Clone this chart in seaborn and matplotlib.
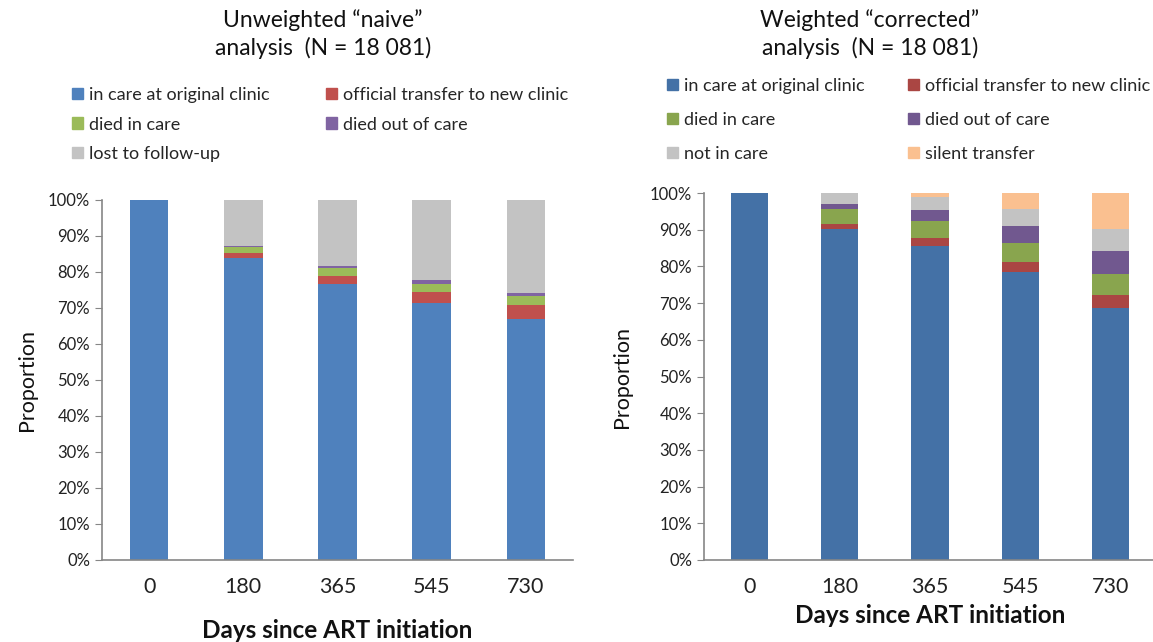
import numpy as np
import seaborn as sns
import matplotlib.pyplot as plt
from matplotlib.patches import Patch
from matplotlib.ticker import PercentFormatter

# Data (in %)
days = ["0", "180", "365", "545", "730"]

# Unweighted "naive" analysis
naive_in_care = [100.0, 83.8, 76.6, 71.5, 67.0]
naive_transfer = [0.0, 1.4, 2.4, 3.0, 3.8]
naive_died_in = [0.0, 1.7, 2.0, 2.3, 2.5]
naive_died_out = [0.0, 0.3, 0.7, 1.0, 0.9]
naive_lost = [0.0, 12.8, 18.3, 22.2, 25.8]

# Weighted "corrected" analysis
corr_in_care = [100.0, 90.2, 85.6, 78.4, 68.6]
corr_transfer = [0.0, 1.4, 2.1, 2.7, 3.7]
corr_died_in = [0.0, 4.1, 4.8, 5.3, 5.7]
corr_died_out = [0.0, 1.4, 2.8, 4.7, 6.2]
corr_not_in_care = [0.0, 2.9, 3.6, 4.5, 6.0]
corr_silent = [0.0, 0.0, 1.1, 4.4, 9.8]

naive_labels = ["in care at original clinic", "official transfer to new clinic",
                "died in care", "died out of care", "lost to follow-up"]
corr_labels = ["in care at original clinic", "official transfer to new clinic",
               "died in care", "died out of care", "not in care", "silent transfer"]

naive_colors = ["#4F81BD", "#C0504D", "#9BBB59", "#8064A2", "#C3C3C3"]
corr_colors = ["#4471A6", "#AA4643", "#89A54E", "#71588F", "#C3C3C3", "#FAC090"]

sns.set_style("white")
plt.rcParams['font.family'] = ['Lato', 'DejaVu Sans']
axis_grey = "#868686"
W, H = 1153, 642


def stacked_panel(ax, series, labels, colors, xlabelpad, ylabelpad,
                  leg_xy, colspace, rowspace):
    bottom = np.zeros(len(days))
    for vals, lab, col in zip(series, labels, colors):
        vals = np.array(vals) / 100
        sns.barplot(x=days, y=vals, bottom=bottom, color=col, saturation=1,
                    width=0.41, linewidth=0, ax=ax)
        bottom = bottom + vals

    ax.set_xlim(-0.5, 4.5)
    ax.set_ylim(0, 1)
    ax.set_yticks(np.arange(0, 1.01, 0.1))
    ax.yaxis.set_major_formatter(PercentFormatter(1.0, decimals=0))
    ax.set_xticks(np.arange(-0.5, 4.6, 1), minor=True)
    ax.tick_params(axis="x", which="major", length=0, labelsize=15.5, pad=12,
                   labelcolor="#222222")
    ax.tick_params(axis="x", which="minor", length=5, color=axis_grey, direction="out")
    ax.tick_params(axis="y", length=5, color=axis_grey, direction="out",
                   labelsize=12, labelcolor="#222222", left=True)
    sns.despine(ax=ax)
    for s in ["left", "bottom"]:
        ax.spines[s].set_color(axis_grey)
        ax.spines[s].set_linewidth(1.2)
    ax.set_xlabel("Days since ART initiation", fontsize=17.5, fontweight="bold",
                  labelpad=xlabelpad, color="#111111")
    ax.set_ylabel("Proportion", fontsize=15.5, labelpad=ylabelpad, color="#111111")

    # legend: matplotlib fills by column, so reorder to read row-wise
    handles = [Patch(color=c, label=l) for c, l in zip(colors, labels)]
    order = list(range(0, len(handles), 2)) + list(range(1, len(handles), 2))
    fig.legend([handles[i] for i in order], [labels[i] for i in order],
               ncol=2, frameon=False, loc="upper left",
               bbox_to_anchor=(leg_xy[0] / W, 1 - leg_xy[1] / H),
               borderpad=0, borderaxespad=0, fontsize=13,
               handlelength=0.6, handleheight=0.6, handletextpad=0.35,
               columnspacing=colspace, labelspacing=rowspace)


fig = plt.figure(figsize=(11.53, 6.42), dpi=100)
ax1 = fig.add_axes([102 / W, 82 / H, 471 / W, 360 / H])
ax2 = fig.add_axes([704 / W, 82 / H, 452 / W, 367 / H])

stacked_panel(ax1, [naive_in_care, naive_transfer, naive_died_in, naive_died_out, naive_lost],
              naive_labels, naive_colors, 16, 8, (72, 87), 3.1, 0.75)
stacked_panel(ax2, [corr_in_care, corr_transfer, corr_died_in, corr_died_out,
                    corr_not_in_care, corr_silent],
              corr_labels, corr_colors, 5, 13, (667, 78), 2.4, 1.0)

fig.text(323 / W, 1 - 34 / H, "Unweighted \u201cnaive\u201d\nanalysis  (N = 18 081)",
         ha="center", va="center", fontsize=16.5, linespacing=1.3, color="#111111")
fig.text(870 / W, 1 - 34 / H, "Weighted \u201ccorrected\u201d\nanalysis  (N = 18 081)",
         ha="center", va="center", fontsize=16.5, linespacing=1.3, color="#111111")

fig.savefig("out.png", dpi=100)
